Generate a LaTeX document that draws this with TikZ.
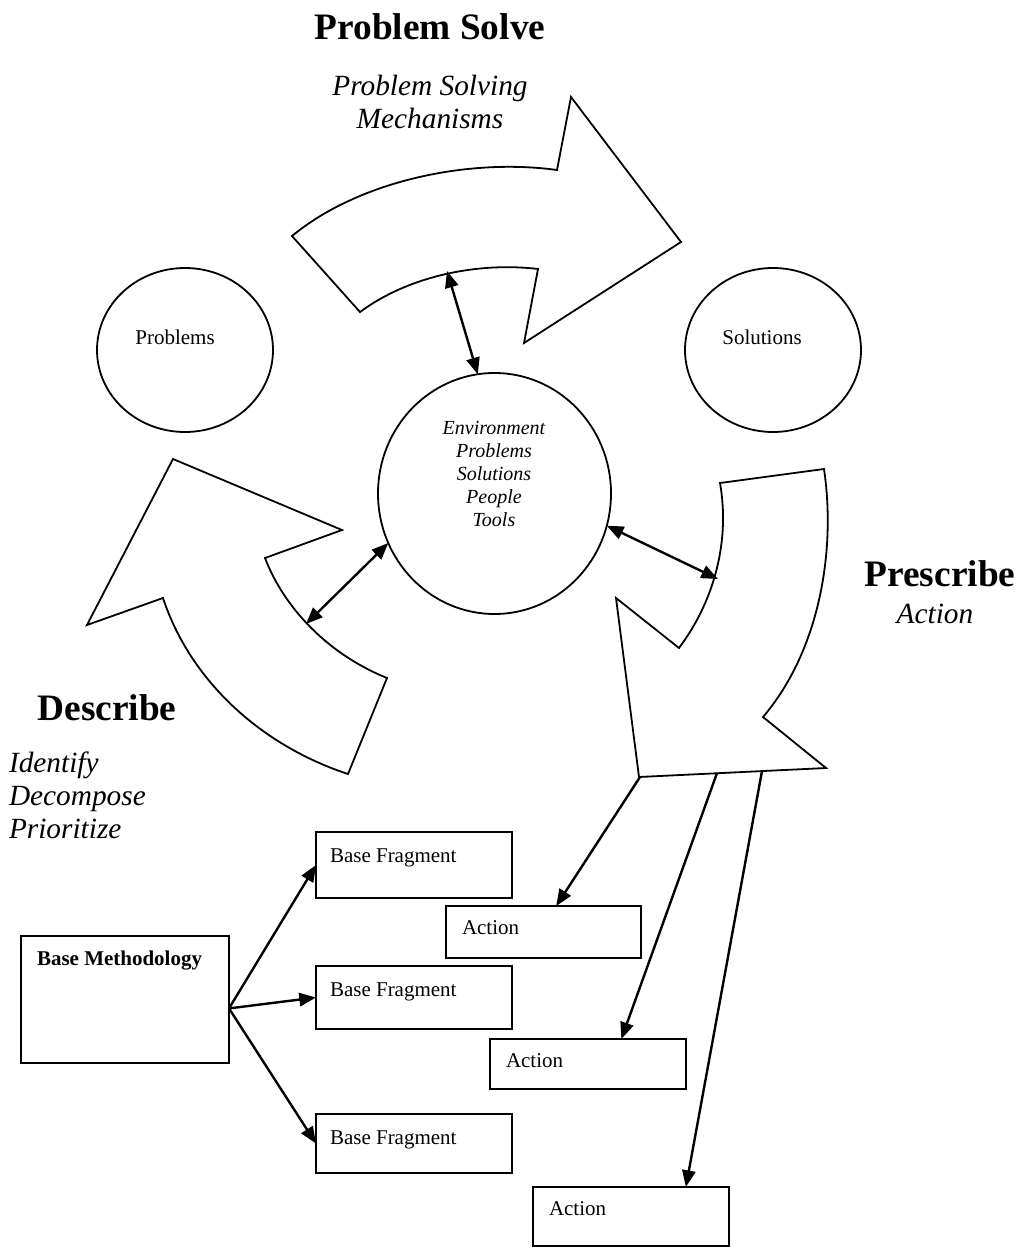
\documentclass[tikz,border=0pt]{standalone}
\usepackage{fontspec}
\setmainfont{Liberation Serif}
\usetikzlibrary{arrows.meta,shapes.geometric,calc}

\newcommand{\fsHead}{\fontsize{28}{32}\selectfont\bfseries}
\newcommand{\fsSub}{\fontsize{22}{24.75}\selectfont\itshape}
\newcommand{\fsBody}{\fontsize{15.75}{18}\selectfont}
\newcommand{\fsInner}{\fontsize{15}{17.25}\selectfont\itshape}

\tikzset{
  bigarrow/.style={draw=black,fill=white,line join=miter,line width=1.35pt},
  bubble/.style={draw=black,ellipse,line width=1.35pt},
  plainbox/.style={draw=black,rectangle,line width=1.6pt,anchor=north west,
    minimum width=147pt},
  link/.style={line width=1.8pt,-{Triangle[length=12.5pt,width=10pt]}},
  twolink/.style={line width=1.8pt,
    {Triangle[length=12.5pt,width=10pt]}-{Triangle[length=12.5pt,width=10pt]}},
}

\begin{document}
\begin{tikzpicture}[y=0.75pt, x=0.75pt, yscale=-1, inner sep=0pt, outer sep=0pt]
  \useasboundingbox (0,0) rectangle (1021,1248);
  \path[bigarrow] (292,236) -- (360,312) .. controls (410,275) and (480,262) ..
    (538,269) -- (524,343) -- (681,242) -- (571,97) -- (557,170) .. controls
    (470,158) and (360,180) .. (292,236) -- cycle;
  \path[bigarrow] (173,459) -- (342,530) -- (265,558) .. controls (285,610) and
    (330,655) .. (387,678) -- (348,774) .. controls (260,745) and (190,680) ..
    (163,598) -- (87,625) -- cycle;
  \path[bigarrow] (720,483) -- (824,469) .. controls (836,550) and (820,650) ..
    (763,717) -- (826,768) -- (639,777) -- (616,598) -- (679,648) .. controls
    (715,600) and (730,540) .. (720,483) -- cycle;
  \coordinate (solveIn) at (447,271);
  \coordinate (describeIn) at (306,624);
  \coordinate (prescribeIn) at (718,579);
  \coordinate (prescribeOut1) at (640,777);
  \coordinate (prescribeOut2) at (717,773);
  \coordinate (prescribeOut3) at (762,771);

  \node[bubble, minimum width=132pt, minimum height=123pt] (problems) at (185,350) {};
  \node[bubble, minimum width=132pt, minimum height=123pt] (solutions) at (773,350) {};
  \node[bubble, minimum width=174.75pt, minimum height=180.75pt] (environment)
    at (494.5,493.5) {};
  \path (problems.center) ++(-10,-6) node[anchor=base, font=\fsBody] (textProblems)
    {Problems};
  \path (solutions.center) ++(-11,-6) node[anchor=base, font=\fsBody] (textSolutions)
    {Solutions};
  \path (494,421) node[anchor=north, align=center, font=\fsInner] (textEnvironment)
    {Environment\\Problems\\Solutions\\People\\Tools};

  \path (430,40) node[anchor=base, font=\fsHead] (textSolve) {Problem Solve};
  \path (430,75) node[anchor=north, align=center, font=\fsSub] (textMechanisms)
    {Problem Solving\\Mechanisms};
  \path (107,720) node[anchor=base, font=\fsHead] (textDescribe) {Describe};
  \path (9,752) node[anchor=north west, align=left, font=\fsSub] (textIdentify)
    {Identify\\Decompose\\Prioritize};
  \path (940,586) node[anchor=base, font=\fsHead] (textPrescribe) {Prescribe};
  \path (935,623) node[anchor=base, font=\fsSub] (textAction) {Action};

  \node[plainbox, minimum width=156pt, minimum height=95.25pt] (method) at (21,936) {};
  \node[plainbox, minimum height=49.5pt] (fragment1) at (316,832) {};
  \node[plainbox, minimum height=47.25pt] (fragment2) at (316,966) {};
  \node[plainbox, minimum height=44.25pt] (fragment3) at (316,1114) {};
  \node[plainbox, minimum width=146.25pt, minimum height=39pt] (action1) at (446,906) {};
  \node[plainbox, minimum height=37.5pt] (action2) at (490,1039) {};
  \node[plainbox, minimum height=44.25pt] (action3) at (533,1187) {};
  \path ([shift={(16,29)}]method.north west) node[anchor=base west,
    font=\fsBody\bfseries] (textMethod) {Base Methodology};
  \foreach \n in {fragment1,fragment2,fragment3}
    \path ([shift={(14,30)}]\n.north west) node[anchor=base west, font=\fsBody]
      (text\n) {Base Fragment};
  \foreach \n in {action1,action2,action3}
    \path ([shift={(16,28)}]\n.north west) node[anchor=base west, font=\fsBody]
      (text\n) {Action};

  \draw[twolink] (solveIn) -- (environment.98);
  \draw[twolink] (describeIn) -- (environment.205);
  \draw[twolink] (prescribeIn) -- (environment.344);
  \coordinate (methodOut) at ($(method.north east)!0.57!(method.south east)$);
  \draw[link] (methodOut) -- (fragment1.west);
  \draw[link] (methodOut) -- (fragment2.west);
  \draw[link] (methodOut) -- (fragment3.west);
  \draw[link] (prescribeOut1) -- ($(action1.north west)!0.565!(action1.north east)$);
  \draw[link] (prescribeOut2) -- ($(action2.north west)!0.67!(action2.north east)$);
  \draw[link] (prescribeOut3) -- ($(action3.north west)!0.78!(action3.north east)$);
\end{tikzpicture}
\end{document}
